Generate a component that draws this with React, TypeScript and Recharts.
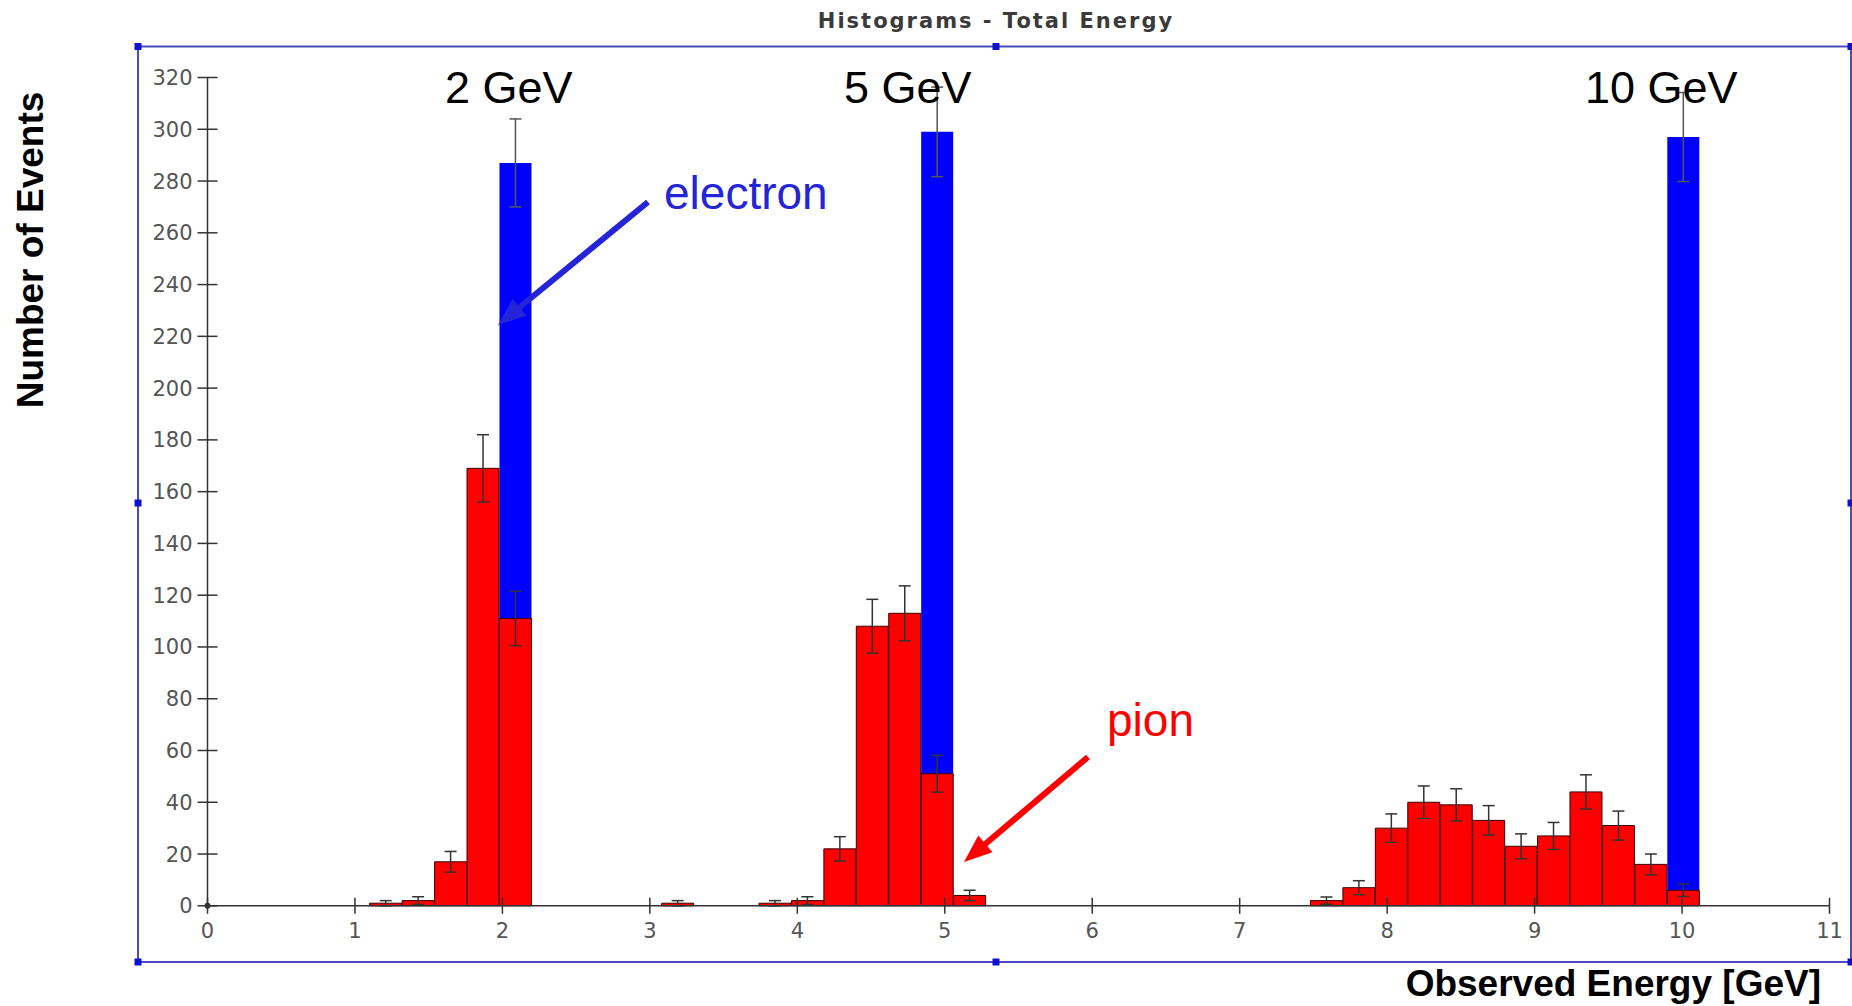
import { BarChart, Bar, XAxis, YAxis, ErrorBar } from "recharts";

// histogram bins (0.22 GeV wide), only the non-empty ones
const binCenters = [
  1.21, 1.43, 1.65, 1.87, 2.09, 3.19, 3.85, 4.07, 4.29, 4.51, 4.73, 4.95, 5.17,
  7.59, 7.81, 8.03, 8.25, 8.47, 8.69, 8.91, 9.13, 9.35, 9.57, 9.79, 10.01,
];
const pionCounts = [
  1, 2, 17, 169, 111, 1, 1, 2, 22, 108, 113, 51, 4,
  2, 7, 30, 40, 39, 33, 23, 27, 44, 31, 16, 6,
];
const pionErrors = [
  1, 1.5, 4, 13, 10.5, 1, 1, 1.5, 4.7, 10.4, 10.6, 7.1, 2,
  1.4, 2.7, 5.5, 6.3, 6.2, 5.7, 4.8, 5.2, 6.6, 5.6, 4, 2.4,
];
const electronCounts = [
  0, 0, 0, 0, 287, 0, 0, 0, 0, 0, 0, 299, 0,
  0, 0, 0, 0, 0, 0, 0, 0, 0, 0, 0, 297,
];
const electronErrors = [
  0, 0, 0, 0, 17, 0, 0, 0, 0, 0, 0, 17.3, 0,
  0, 0, 0, 0, 0, 0, 0, 0, 0, 0, 0, 17.2,
];
const energyTicks = [0, 1, 2, 3, 4, 5, 6, 7, 8, 9, 10, 11];
const countTicks = [0, 20, 40, 60, 80, 100, 120, 140, 160, 180, 200, 220, 240, 260, 280, 300, 320];
const beamLabels = ["2 GeV", "5 GeV", "10 GeV"];

const data = binCenters.map((x, i) => ({
  x,
  pion: pionCounts[i],
  pionErr: pionErrors[i],
  electron: electronCounts[i],
  electronErr: electronErrors[i],
}));

const W = 1852;
const H = 1006;
const TICK_FONT = "DejaVu Sans";
const LABEL_FONT = "Liberation Sans, Arial, sans-serif";

function YTick({ x, y, payload }: any) {
  return (
    <g>
      <line x1={x - 10} x2={x + 10} y1={y} y2={y} stroke="#333" strokeWidth={1.5} />
      {payload.value === 0 && <circle cx={x} cy={y} r={3} fill="#333" />}
      <text x={x - 15} y={y + 7.5} textAnchor="end" fill="#555" fontSize={21} fontFamily={TICK_FONT}>
        {payload.value}
      </text>
    </g>
  );
}

function XTick({ x, y, payload }: any) {
  return (
    <g>
      <line x1={x} x2={x} y1={y - 8} y2={y + 8} stroke="#333" strokeWidth={1.5} />
      <text x={x} y={y + 32} textAnchor="middle" fill="#555" fontSize={21} fontFamily={TICK_FONT}>
        {payload.value}
      </text>
    </g>
  );
}

function Arrow({ from, to, color }: { from: number[]; to: number[]; color: string }) {
  const dx = to[0] - from[0];
  const dy = to[1] - from[1];
  const len = Math.hypot(dx, dy);
  const ux = dx / len;
  const uy = dy / len;
  const head = 28;
  const half = 11;
  const bx = to[0] - ux * head;
  const by = to[1] - uy * head;
  const pts = [
    [to[0], to[1]],
    [bx - uy * half, by + ux * half],
    [bx + uy * half, by - ux * half],
  ];
  return (
    <g>
      <line x1={from[0]} y1={from[1]} x2={bx + ux * 2} y2={by + uy * 2} stroke={color} strokeWidth={6} />
      <polygon points={pts.map((p) => p.join(",")).join(" ")} fill={color} />
    </g>
  );
}

// frame handles (plot selection box)
const handles = [
  [138, 46.5], [996, 46.5], [1851, 46.5],
  [138, 503], [1851, 503],
  [138, 962], [996, 962], [1851, 962],
];
const beamLabelX = [445, 844, 1585];

export default function App() {
  return (
    <div style={{ position: "absolute", left: 0, top: 0, width: W, height: H, background: "#fff" }}>
      <BarChart
        width={W}
        height={H}
        data={data}
        margin={{ top: 77.5, right: 22.5, bottom: 50.2, left: 137.5 }}
        barCategoryGap={0}
        barGap={0}
      >
        <XAxis
          xAxisId="e"
          type="number"
          dataKey="x"
          domain={[0, 11]}
          ticks={energyTicks}
          interval={0}
          height={50}
          tickSize={0}
          tickMargin={0}
          tickLine={false}
          axisLine={{ stroke: "#333", strokeWidth: 1.5 }}
          tick={<XTick />}
        />
        <XAxis xAxisId="h" type="number" dataKey="x" domain={[0, 11]} hide />
        <YAxis
          width={70}
          domain={[0, 320]}
          ticks={countTicks}
          interval={0}
          tickSize={0}
          tickMargin={0}
          tickLine={false}
          axisLine={{ stroke: "#333", strokeWidth: 1.5 }}
          tick={<YTick />}
        />
        <Bar xAxisId="e" dataKey="electron" fill="#0000ff" isAnimationActive={false}>
          <ErrorBar dataKey="electronErr" width={6} stroke="#555" strokeWidth={1.5} direction="y" />
        </Bar>
        <Bar xAxisId="h" dataKey="pion" fill="#ff0000" stroke="#3a0000" strokeWidth={1} isAnimationActive={false}>
          <ErrorBar dataKey="pionErr" width={6} stroke="#333" strokeWidth={1.5} direction="y" />
        </Bar>
      </BarChart>
      <svg
        width={W}
        height={H}
        style={{ position: "absolute", left: 0, top: 0, pointerEvents: "none" }}
      >
        <rect x={138} y={46.5} width={1713} height={915.5} fill="none" stroke="#4b4bc0" strokeWidth={2} />
        {handles.map(([hx, hy], i) => (
          <rect key={i} x={hx - 3.5} y={hy - 3.5} width={7} height={7} fill="#1010d0" />
        ))}
        <text x={996} y={28} textAnchor="middle" fontFamily={TICK_FONT} fontWeight="bold" fontSize={21} letterSpacing={2} fill="#3a3a3a">
          Histograms - Total Energy
        </text>
        <text
          x={0}
          y={0}
          transform="translate(43,250) rotate(-90)"
          textAnchor="middle"
          fontFamily={LABEL_FONT}
          fontWeight="bold"
          fontSize={37}
          fill="#000"
        >
          Number of Events
        </text>
        <text x={1821} y={996} textAnchor="end" fontFamily={LABEL_FONT} fontWeight="bold" fontSize={37} fill="#000">
          Observed Energy [GeV]
        </text>
        {beamLabels.map((t, i) => (
          <text key={t} x={beamLabelX[i]} y={103} fontFamily={LABEL_FONT} fontSize={45} fill="#000">
            {t}
          </text>
        ))}
        <text x={664} y={209} fontFamily={LABEL_FONT} fontSize={46} fill="#2424d8">
          electron
        </text>
        <text x={1107} y={736} fontFamily={LABEL_FONT} fontSize={46} fill="#ff0000">
          pion
        </text>
        <Arrow from={[648, 202]} to={[498, 325]} color="#2424d8" />
        <Arrow from={[1088, 757]} to={[964, 862]} color="#ff0000" />
      </svg>
    </div>
  );
}
